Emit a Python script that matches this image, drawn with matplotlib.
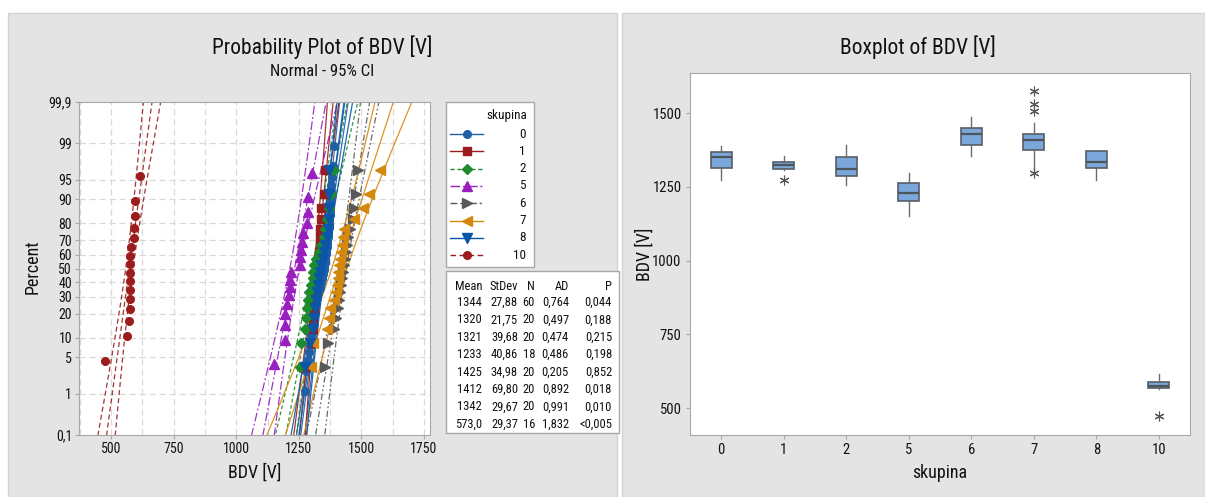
import matplotlib
matplotlib.use("Agg")
import matplotlib.pyplot as plt
from matplotlib.patches import Rectangle
import numpy as np
from statistics import NormalDist

plt.rcParams['font.family'] = ['Roboto Condensed', 'Roboto', 'DejaVu Sans']

W, H = 1205, 497

# ---- data ----
groups = ['0', '1', '2', '5', '6', '7', '8', '10']

bdv_0 = [1274, 1280, 1285, 1290, 1294, 1297, 1300, 1302, 1304, 1306, 1308, 1310, 1311, 1312, 1314,
         1316, 1318, 1321, 1324, 1327, 1330, 1333, 1335, 1338, 1340, 1342, 1344, 1346, 1348, 1349,
         1351, 1352, 1353, 1354, 1355, 1356, 1358, 1359, 1360, 1361, 1362, 1363, 1364, 1366, 1367,
         1368, 1369, 1370, 1371, 1372, 1373, 1374, 1375, 1376, 1377, 1378, 1380, 1382, 1385, 1392]
bdv_1 = [1274, 1302, 1305, 1308, 1310, 1312, 1315, 1318, 1320, 1322,
         1323, 1326, 1330, 1333, 1335, 1336, 1337, 1340, 1350, 1353]
bdv_2 = [1255, 1258, 1275, 1280, 1283, 1288, 1292, 1300, 1305, 1308,
         1310, 1320, 1330, 1340, 1350, 1355, 1362, 1370, 1380, 1392]
bdv_5 = [1150, 1193, 1194, 1196, 1203, 1210, 1213, 1214, 1219,
         1254, 1254, 1257, 1263, 1267, 1283, 1286, 1287, 1303]
bdv_6 = [1355, 1366, 1390, 1400, 1408, 1412, 1416, 1420, 1424, 1427,
         1430, 1434, 1438, 1442, 1448, 1455, 1465, 1472, 1478, 1488]
bdv_7 = [1297, 1308, 1362, 1372, 1376, 1390, 1398, 1402, 1406, 1408,
         1412, 1415, 1419, 1423, 1427, 1432, 1469, 1508, 1532, 1576]
bdv_8 = [1276, 1295, 1305, 1312, 1315, 1318, 1322, 1326, 1330, 1333,
         1338, 1345, 1350, 1356, 1362, 1367, 1369, 1370, 1371, 1372]
bdv_10 = [477, 565, 573, 574, 574, 574, 575, 575, 576, 577, 580, 590, 593, 594, 594, 617]
samples = [bdv_0, bdv_1, bdv_2, bdv_5, bdv_6, bdv_7, bdv_8, bdv_10]

means = [1344, 1320, 1321, 1233, 1425, 1412, 1342, 573.0]
stdevs = [27.88, 21.75, 39.68, 40.86, 34.98, 69.80, 29.67, 29.37]
counts = [60, 20, 20, 18, 20, 20, 20, 16]
ad_vals = [0.764, 0.497, 0.474, 0.486, 0.205, 0.892, 0.991, 1.832]
p_text = ['0,044', '0,188', '0,215', '0,198', '0,852', '0,018', '0,010', '<0,005']

# boxplot statistics
box_q1 = [1314, 1309, 1288, 1202, 1392, 1375, 1314, 570]
box_med = [1350, 1323, 1309, 1229, 1428, 1410, 1335, 576]
box_q3 = [1367, 1333, 1350, 1263, 1449, 1428, 1370, 589]
box_lo = [1274, 1307, 1255, 1150, 1353, 1308, 1274, 564]
box_hi = [1387, 1353, 1392, 1297, 1486, 1468, 1370, 616]
box_out = [[], [1274], [], [], [], [1297, 1508, 1532, 1576], [], [475]]

pct_ticks = [0.1, 1, 5, 10, 20, 30, 40, 50, 60, 70, 80, 90, 95, 99, 99.9]

# ---- styles ----
colors = ['#1f5fa8', '#9b1c1c', '#1d8a2e', '#9a1fbf', '#595959', '#d4880c', '#0a56a8', '#9b1c1c']
markers = ['o', 's', 'D', '^', '>', '<', 'v', 'o']
msizes = [5.5, 5.5, 5.5, 6.5, 6.5, 6.5, 6.5, 5.5]
lstyles = ['-', '-', (0, (3, 2)), (0, (7, 2, 1.5, 2)), (0, (5, 2, 1.5, 2, 1.5, 2)), '-', '-', (0, (4, 2.5))]
panel = '#e4e4e4'
spine = '#a8a8a8'
txt = '#111111'

nd = NormalDist()
fig = plt.figure(figsize=(W / 100, H / 100), dpi=100)
fig.patch.set_facecolor('white')

ov = fig.add_axes([0, 0, 1, 1], zorder=-1)
ov.set_xlim(0, W)
ov.set_ylim(H, 0)
ov.axis('off')
ov.add_patch(Rectangle((8, 13), 609, 484, fc=panel, ec='#d2d2d2', lw=1))
ov.add_patch(Rectangle((622, 13), 583, 484, fc=panel, ec='#d2d2d2', lw=1))


def px_axes(x0, y0, x1, y1):
    return fig.add_axes([x0 / W, 1 - y1 / H, (x1 - x0) / W, (y1 - y0) / H])


# ---- probability plot ----
ax = px_axes(79, 102, 430, 435)
ax.set_facecolor('white')
zlim = nd.inv_cdf(0.999)
ax.set_ylim(-zlim, zlim)
ax.set_xlim(372, 1774)
zz = np.linspace(-3.4, 3.4, 120)
for k in range(len(groups)):
    m, s, n = means[k], stdevs[k], counts[k]
    fit = m + zz * s
    se = s * np.sqrt(1 / n + zz ** 2 / (2 * n))
    for line in (fit, fit - 1.96 * se, fit + 1.96 * se):
        ax.plot(line, zz, color=colors[k], ls=lstyles[k], lw=0.9, alpha=0.9, zorder=2)
    xs = np.sort(samples[k])
    ranks = np.arange(1, len(xs) + 1)
    zp = [nd.inv_cdf((r - 0.3) / (len(xs) + 0.4)) for r in ranks]
    ax.plot(xs, zp, ls='none', marker=markers[k], ms=msizes[k], color=colors[k], mec=colors[k], zorder=3)

ax.set_yticks([nd.inv_cdf(p / 100) for p in pct_ticks])
ax.set_yticklabels([('%g' % p).replace('.', ',') for p in pct_ticks])
ax.set_xticks([500, 750, 1000, 1250, 1500, 1750])
for gx in np.arange(375, 1775, 125):
    ax.axvline(gx, color='#d9d9d9', ls=(0, (5, 3)), lw=0.9, zorder=1)
for p in pct_ticks[1:-1]:
    ax.axhline(nd.inv_cdf(p / 100), color='#d9d9d9', ls=(0, (5, 3)), lw=0.9, zorder=1)
ax.tick_params(labelsize=10, color=spine, length=3, pad=2, labelcolor=txt)
for sp in ax.spines.values():
    sp.set_color(spine)

# ---- legend and table ----
ov.add_patch(Rectangle((446, 102), 88, 165, fc='white', ec=spine, lw=1))
ov.text(527, 116, 'skupina', ha='right', va='center', fontsize=9.5, color=txt)
for k, g in enumerate(groups):
    yy = 134 + k * 17.3
    ov.plot([450, 483], [yy, yy], color=colors[k], ls=lstyles[k], lw=1)
    ov.plot([466.5], [yy], marker=markers[k], ms=msizes[k], color=colors[k], ls='none')
    ov.text(526, yy, g, ha='right', va='center', fontsize=9.5, color=txt)

ov.add_patch(Rectangle((446, 271), 173, 162, fc='white', ec=spine, lw=1))
col_x = [482, 518, 535, 569, 612]
heads = ['Mean', 'StDev', 'N', 'AD', 'P']
for cx, h in zip(col_x, heads):
    ov.text(cx, 286, h, ha='right', va='center', fontsize=9, color=txt)
for k in range(len(groups)):
    yy = 302.5 + k * 17.4
    mt = ('%.0f' % means[k]) if means[k] >= 1000 else ('%.1f' % means[k])
    row = [mt, '%.2f' % stdevs[k], '%d' % counts[k], '%.3f' % ad_vals[k], p_text[k]]
    for cx, t in zip(col_x, row):
        ov.text(cx, yy, t.replace('.', ','), ha='right', va='center', fontsize=9, color=txt)

ov.text(322, 47, 'Probability Plot of BDV [V]', ha='center', va='center', fontsize=15.5, color=txt)
ov.text(322, 72, 'Normal - 95% CI', ha='center', va='center', fontsize=12, color=txt)
ov.text(255, 473, 'BDV [V]', ha='center', va='center', fontsize=13, color=txt)
ov.text(33, 267, 'Percent', ha='center', va='center', fontsize=13, rotation=90, color=txt)

# ---- boxplot ----
bx = px_axes(690, 73, 1190, 435)
bx.set_facecolor('white')
stats = []
for k, g in enumerate(groups):
    stats.append(dict(label=g, q1=box_q1[k], med=box_med[k], q3=box_q3[k],
                      whislo=box_lo[k], whishi=box_hi[k], fliers=box_out[k]))
bx.bxp(stats, positions=range(1, len(groups) + 1), widths=0.33, patch_artist=True, showcaps=False,
       boxprops=dict(facecolor='#7ba7da', edgecolor='#555d66', lw=1.2),
       medianprops=dict(color='#4d545c', lw=1.6),
       whiskerprops=dict(color='#6b6b6b', lw=1),
       flierprops=dict(marker=(6, 2, 0), ms=7, mec='#555555', mew=0.8, ls='none'))
bx.set_xlim(0.5, 8.5)
bx.set_ylim(409, 1636)
bx.set_yticks([500, 750, 1000, 1250, 1500])
bx.tick_params(labelsize=10.5, color=spine, length=3, pad=3, labelcolor=txt)
for sp in bx.spines.values():
    sp.set_color(spine)

ov.text(918, 47, 'Boxplot of BDV [V]', ha='center', va='center', fontsize=15.5, color=txt)
ov.text(940, 473, 'skupina', ha='center', va='center', fontsize=13, color=txt)
ov.text(645, 254, 'BDV [V]', ha='center', va='center', fontsize=13, rotation=90, color=txt)

fig.savefig('out.png', dpi=100)
